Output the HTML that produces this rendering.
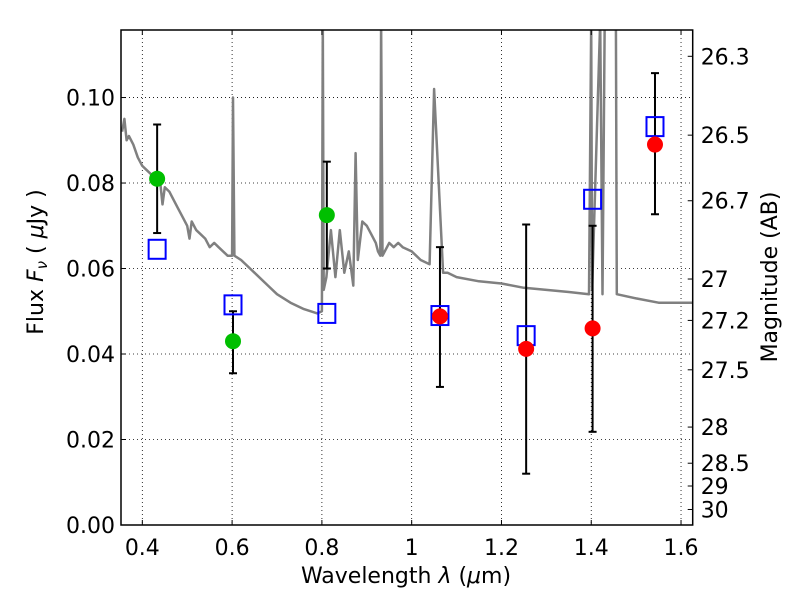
<!DOCTYPE html>
<html><head><meta charset="utf-8"><style>
body{margin:0;background:#fff}
svg text{font-family:"DejaVu Sans","Liberation Sans",sans-serif;fill:#000}
</style></head><body>
<svg id="chart" width="800" height="600" xmlns="http://www.w3.org/2000/svg">
<defs><clipPath id="clip"><rect x="121" y="30" width="571.7" height="495"/></clipPath></defs>
<rect width="800" height="600" fill="#fff"/>
<g id="grid"></g>
<g id="plot" clip-path="url(#clip)"></g>
<g id="axes"></g>
</svg>
<script>
const specX=[0.355,0.36,0.365,0.37,0.38,0.39,0.40,0.41,0.42,0.43,0.44,0.445,0.45,0.46,0.47,0.48,0.49,0.50,0.505,0.51,0.52,0.53,0.54,0.55,0.56,0.57,0.58,0.59,0.60,0.602,0.605,0.62,0.65,0.68,0.70,0.73,0.76,0.79,0.80,0.802,0.804,0.81,0.82,0.83,0.84,0.85,0.86,0.87,0.875,0.88,0.89,0.90,0.91,0.92,0.925,0.93,0.932,0.935,0.95,0.96,0.97,0.98,1.00,1.02,1.04,1.05,1.07,1.08,1.1,1.15,1.2,1.25,1.3,1.35,1.395,1.40,1.402,1.42,1.425,1.43,1.455,1.457,1.5,1.55,1.6,1.625];
const specY=[0.092,0.095,0.090,0.091,0.089,0.086,0.084,0.083,0.082,0.082,0.080,0.075,0.079,0.078,0.076,0.074,0.072,0.070,0.067,0.071,0.069,0.068,0.067,0.065,0.066,0.065,0.064,0.063,0.063,0.100,0.063,0.062,0.059,0.056,0.054,0.052,0.0505,0.0495,0.050,0.118,0.055,0.058,0.069,0.058,0.069,0.059,0.064,0.056,0.087,0.062,0.071,0.070,0.068,0.066,0.064,0.063,0.118,0.063,0.066,0.065,0.066,0.065,0.064,0.062,0.061,0.102,0.059,0.059,0.058,0.057,0.0565,0.0555,0.055,0.0545,0.054,0.118,0.055,0.118,0.054,0.118,0.118,0.054,0.053,0.052,0.052,0.052];
const greenX=[0.433,0.602,0.811];
const greenY=[0.081,0.043,0.0725];
const greenHi=[0.0937,0.050,0.085];
const greenLo=[0.0683,0.0355,0.060];
const redX=[1.063,1.255,1.403,1.542];
const redY=[0.0488,0.0412,0.046,0.089];
const redHi=[0.065,0.0703,0.070,0.1057];
const redLo=[0.0323,0.012,0.0218,0.0727];
const sqX=[0.433,0.602,0.811,1.063,1.255,1.403,1.542];
const sqY=[0.0645,0.0515,0.0495,0.049,0.0443,0.0762,0.0932];
const xTicks=[0.4,0.6,0.8,1,1.2,1.4,1.6];
const xTickLabels=["0.4","0.6","0.8","1","1.2","1.4","1.6"];
const yTicks=[0,0.02,0.04,0.06,0.08,0.10];
const yTickLabels=["0.00","0.02","0.04","0.06","0.08","0.10"];
const magTicks=[26.3,26.5,26.7,27,27.2,27.5,28,28.5,29,30];

const L=121,R=692.7,T=30,B=525;
const x0=0.3525,x1=1.626,y0=0,y1=0.1158;
const sx=v=>L+(v-x0)/(x1-x0)*(R-L);
const sy=v=>B-(v-y0)/(y1-y0)*(B-T);
const NS="http://www.w3.org/2000/svg";
function mk(tag,attrs,parent){const e=document.createElementNS(NS,tag);for(const k in attrs)e.setAttribute(k,attrs[k]);parent.appendChild(e);return e;}
const grid=document.getElementById('grid'),plot=document.getElementById('plot'),axes=document.getElementById('axes');

xTicks.forEach((t,i)=>{
 const g=mk('line',{x1:sx(t),x2:sx(t),y1:T,y2:B,stroke:'#000','stroke-width':0.8,'stroke-dasharray':'1,3'},grid);
 
 
 mk('line',{x1:sx(t),x2:sx(t),y1:B,y2:B-5,stroke:'#000'},axes);
 mk('line',{x1:sx(t),x2:sx(t),y1:T,y2:T+5,stroke:'#000'},axes);
 const tx=mk('text',{x:sx(t),y:B+30,'text-anchor':'middle','font-size':22},axes);
 tx.textContent=xTickLabels[i];
 
 
});
yTicks.forEach((t,i)=>{
 const g=mk('line',{x1:L,x2:R,y1:sy(t),y2:sy(t),stroke:'#000','stroke-width':0.8,'stroke-dasharray':'1,3'},grid);
 
 
 mk('line',{x1:L,x2:L+5,y1:sy(t),y2:sy(t),stroke:'#000'},axes);
 const tx=mk('text',{x:L-6,y:sy(t)+8,'text-anchor':'end','font-size':22},axes);
 tx.textContent=yTickLabels[i];
 
 
});
magTicks.forEach(m=>{
 const f=Math.pow(10,(23.9-m)/2.5);
 const y=sy(f);
 mk('line',{x1:R,x2:R-5,y1:y,y2:y,stroke:'#000'},axes);
 const tx=mk('text',{x:R+8,y:y+8,'font-size':22},axes);
 tx.textContent=String(m);
 
 
});

const pts=specX.map((v,i)=>sx(v).toFixed(1)+','+sy(specY[i]).toFixed(1)).join(' ');
const sp=mk('polyline',{points:pts,fill:'none',stroke:'#808080','stroke-width':2.5,'stroke-linejoin':'round'},plot);



function errbar(x,lo,hi){
 const g=mk('g',{stroke:'#000','stroke-width':2},plot);
 
 
 mk('line',{x1:sx(x),x2:sx(x),y1:sy(lo),y2:sy(hi)},g);
 mk('line',{x1:sx(x)-4,x2:sx(x)+4,y1:sy(lo),y2:sy(lo)},g);
 mk('line',{x1:sx(x)-4,x2:sx(x)+4,y1:sy(hi),y2:sy(hi)},g);
}
greenX.forEach((x,i)=>errbar(x,greenLo[i],greenHi[i]));
redX.forEach((x,i)=>errbar(x,redLo[i],redHi[i]));
sqX.forEach((x,i)=>{
 const r=mk('rect',{x:sx(x)-8.5,y:sy(sqY[i])-9.5,width:17,height:19,fill:'none',stroke:'#0000ff','stroke-width':2},plot);
 
 
});
greenX.forEach((x,i)=>{
 const c=mk('circle',{cx:sx(x),cy:sy(greenY[i]),r:8,fill:'#00bf00'},plot);
 
 
});
redX.forEach((x,i)=>{
 const c=mk('circle',{cx:sx(x),cy:sy(redY[i]),r:8,fill:'#ff0000'},plot);
 
 
});
const fr=mk('rect',{x:L,y:T,width:R-L,height:B-T,fill:'none',stroke:'#000','stroke-width':1.5},axes);


</script>
<svg style="position:absolute;left:0;top:0" width="800" height="600" xmlns="http://www.w3.org/2000/svg">
<text x="406" y="583" text-anchor="middle" font-size="22" style="font-family:'DejaVu Sans',sans-serif">Wavelength  <tspan font-style="italic">λ</tspan> (<tspan font-style="italic">μ</tspan>m)</text>
<text transform="translate(43,262) rotate(-90)" text-anchor="middle" font-size="22" style="font-family:'DejaVu Sans',sans-serif">Flux  <tspan font-style="italic">F</tspan><tspan font-size="15" dy="4" font-style="italic">ν</tspan><tspan dy="-4">  ( </tspan><tspan font-style="italic">μ</tspan>Jy )</text>
<text transform="translate(777,277) rotate(-90)" text-anchor="middle" font-size="22" style="font-family:'DejaVu Sans',sans-serif">Magnitude (AB)</text>
</svg>
</body></html>
